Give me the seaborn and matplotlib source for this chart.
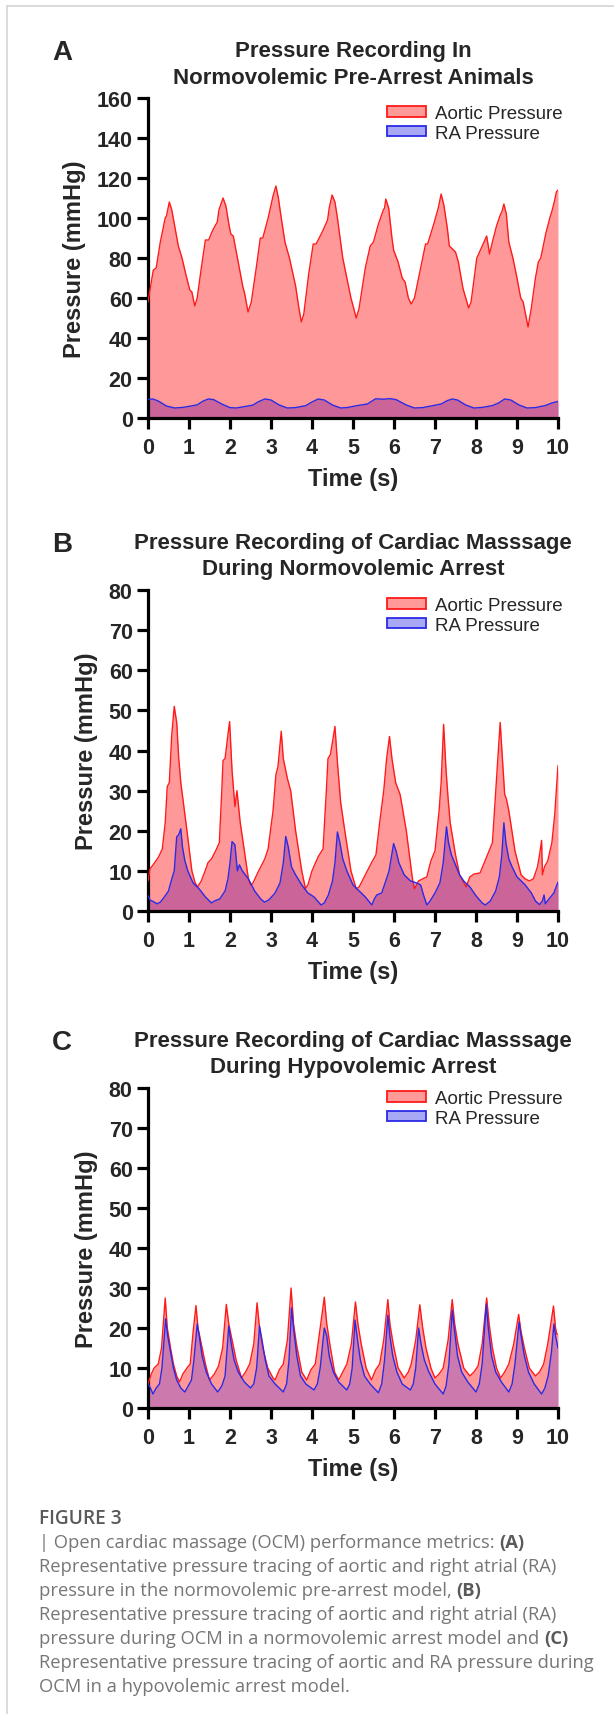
import matplotlib
matplotlib.use("Agg")
import matplotlib.pyplot as plt
import seaborn as sns
from matplotlib.patches import Patch
from matplotlib.lines import Line2D

# -------------------------
# Data
# -------------------------

# Panel A - normovolemic pre-arrest
a_aortic_t = [0.00, 0.08, 0.13, 0.20, 0.30, 0.42, 0.45, 0.52, 0.58, 0.66, 0.74, 0.83, 0.92, 1.02, 1.07, 1.14,
              1.20, 1.30, 1.40, 1.48, 1.58, 1.69, 1.73, 1.83, 1.90, 1.98, 2.02, 2.08, 2.20, 2.31, 2.36, 2.44,
              2.52, 2.64, 2.74, 2.80, 2.93, 3.05, 3.12, 3.18, 3.25, 3.34, 3.45, 3.60, 3.68, 3.74,
              3.80, 3.92, 4.03, 4.10, 4.25, 4.38, 4.42, 4.49, 4.56, 4.62, 4.75, 4.85, 4.95, 5.08,
              5.15, 5.30, 5.42, 5.50, 5.62, 5.74, 5.77, 5.80, 5.87, 5.95, 5.99, 6.10, 6.20, 6.27, 6.35, 6.42,
              6.50, 6.65, 6.77, 6.82, 6.97, 7.08, 7.15, 7.22, 7.30, 7.35, 7.50, 7.57, 7.68, 7.82,
              7.88, 8.02, 8.13, 8.26, 8.30, 8.33, 8.40, 8.50, 8.60, 8.63, 8.68, 8.74, 8.80, 8.90, 9.00, 9.09,
              9.15, 9.27, 9.35, 9.45, 9.52, 9.58, 9.70, 9.80, 9.86, 9.92, 9.96, 10.0]
a_aortic_p = [58, 68, 74, 75, 88, 100, 101, 108, 104, 95, 86, 80, 72, 64, 63, 56,
              60, 75, 89, 89, 94, 98, 104, 110, 106, 96, 92, 91, 78, 66, 62, 53,
              58, 75, 90, 90, 100, 111, 116, 110, 100, 88, 80, 66, 55, 48,
              52, 72, 87, 87, 93, 99, 105, 111.5, 108, 100, 80, 70, 60, 50,
              55, 75, 86, 88, 97, 104, 105, 109.5, 105, 90, 84, 78, 70, 68, 60, 57,
              60, 75, 87, 87, 97, 105, 112, 106, 95, 86, 83, 78, 65, 55,
              58, 80, 85, 91, 86, 82, 88, 96, 102, 103, 107, 102, 88, 80, 70, 60,
              58, 45.5, 55, 70, 78, 80, 92, 100, 104, 109, 113, 114]
a_ra_t = [0.00, 0.12, 0.25, 0.45, 0.65, 0.85, 1.05, 1.20, 1.35, 1.47, 1.60, 1.80, 2.00, 2.15, 2.35, 2.55,
          2.70, 2.85, 3.00, 3.20, 3.40, 3.60, 3.85, 4.00, 4.15, 4.30, 4.50, 4.70, 4.85, 5.10, 5.35, 5.55,
          5.75, 5.90, 6.05, 6.30, 6.50, 6.70, 6.95, 7.15, 7.30, 7.42, 7.55, 7.75, 7.95, 8.15, 8.40, 8.55,
          8.70, 8.85, 9.05, 9.25, 9.45, 9.70, 9.85, 10.0]
a_ra_p = [9.3, 9.5, 8.5, 6.0, 5.0, 5.3, 6.0, 6.6, 8.5, 9.5, 9.2, 7.0, 5.2, 5.0, 5.7, 6.4,
          8.2, 9.5, 9.0, 6.5, 5.0, 5.2, 6.2, 8.0, 9.5, 9.0, 6.5, 5.0, 5.2, 6.2, 7.0, 9.6,
          9.4, 9.7, 9.2, 6.5, 5.0, 5.2, 6.2, 7.0, 8.7, 9.5, 9.0, 6.5, 5.0, 5.3, 6.2, 7.5,
          9.5, 9.0, 6.5, 5.0, 5.2, 6.3, 7.5, 8.3]

# Panel B - cardiac massage, normovolemic arrest
b_aortic_t = [0.00, 0.05, 0.16, 0.26, 0.35, 0.42, 0.47, 0.52, 0.58, 0.64, 0.70, 0.75, 0.80, 0.85, 0.95, 1.07,
              1.15, 1.21, 1.30, 1.43, 1.46, 1.55, 1.65, 1.74, 1.80, 1.83, 1.88, 1.95, 1.99, 2.05, 2.12, 2.17,
              2.25, 2.35, 2.45, 2.50, 2.55, 2.70, 2.85, 2.93, 3.05, 3.12, 3.17, 3.25, 3.30, 3.40, 3.48, 3.60,
              3.75, 3.84, 3.90, 4.00, 4.15, 4.27, 4.35, 4.39, 4.45, 4.56, 4.62, 4.70, 4.80, 4.95, 5.08, 5.15,
              5.30, 5.45, 5.56, 5.65, 5.75, 5.82, 5.89, 5.95, 6.04, 6.15, 6.30, 6.45, 6.50, 6.60, 6.80, 6.90,
              7.00, 7.10, 7.15, 7.21, 7.27, 7.32, 7.37, 7.50, 7.60, 7.76, 7.85, 7.95, 8.10, 8.20, 8.28, 8.40,
              8.47, 8.52, 8.59, 8.65, 8.70, 8.74, 8.80, 8.95, 9.10, 9.20, 9.30, 9.40, 9.45, 9.50, 9.55, 9.60,
              9.62, 9.67, 9.75, 9.85, 9.92, 10.0]
b_aortic_p = [7.5, 10.5, 12, 13.5, 15.5, 22, 31, 32, 44, 51, 47, 38, 32, 28, 20, 10,
              7, 6, 7.5, 11, 12, 13, 15, 17, 30, 37.5, 38, 44, 47.2, 35, 26, 30,
              22, 15, 8, 6.5, 6.8, 10, 13, 15.5, 25, 34, 36, 44.8, 38, 33, 30, 20,
              10, 5.6, 6.5, 10, 13.5, 15.5, 30, 38, 39, 46, 37, 27, 20, 10, 5.5, 6,
              9, 12, 14, 22, 30, 38, 43.5, 38, 32, 29, 20, 8, 5.5, 7.5, 8.5, 12.5,
              15, 25, 32, 46.5, 35, 28, 22, 14, 9, 6, 8.5, 9.2, 9.5, 12, 14, 17,
              28, 36, 47, 37, 29, 28, 25, 15, 9, 8, 7.5, 8, 9.5, 11, 14, 17.6,
              9, 11, 12.5, 17, 24, 36.3]
b_ra_t = [0.00, 0.05, 0.12, 0.22, 0.30, 0.40, 0.50, 0.58, 0.64, 0.70, 0.75, 0.80, 0.84, 0.90, 0.97, 1.10,
          1.25, 1.40, 1.50, 1.55, 1.62, 1.75, 1.88, 1.95, 2.00, 2.05, 2.12, 2.18, 2.23, 2.30, 2.45, 2.60,
          2.75, 2.84, 2.95, 3.10, 3.22, 3.30, 3.36, 3.42, 3.50, 3.60, 3.75, 3.90, 4.05, 4.22, 4.30, 4.40,
          4.50, 4.56, 4.62, 4.68, 4.75, 4.85, 5.00, 5.15, 5.30, 5.46, 5.52, 5.58, 5.70, 5.80, 5.88, 5.99,
          6.05, 6.12, 6.25, 6.40, 6.55, 6.65, 6.72, 6.80, 6.88, 7.00, 7.12, 7.20, 7.28, 7.33, 7.40, 7.50,
          7.60, 7.70, 7.85, 8.00, 8.15, 8.23, 8.35, 8.48, 8.57, 8.63, 8.68, 8.73, 8.80, 8.88, 9.00, 9.10,
          9.20, 9.35, 9.45, 9.55, 9.62, 9.66, 9.69, 9.78, 9.90, 10.0]
b_ra_p = [3.9, 2.7, 2.4, 1.8, 2.2, 3.5, 5, 8, 10, 18.5, 19, 20.5, 16, 12.5, 10, 7,
          5.5, 3.5, 2.5, 2, 2.5, 3, 5, 8, 12, 17.3, 16.5, 10, 11.5, 10, 8, 5,
          3, 2.2, 2.8, 4.5, 7, 12, 18.6, 16, 11, 9, 6.5, 4.5, 3.5, 1.5, 2, 4,
          7.5, 12, 19.7, 17, 13, 10, 6.5, 5, 3.5, 1.5, 3, 4, 4.5, 7.5, 10, 16.8,
          15, 12, 9, 7.5, 7, 6.5, 4, 1.5, 2.5, 4.5, 7, 12, 21, 17, 14, 11.5,
          9, 7.5, 6, 3.8, 2, 1.5, 2.5, 5, 8.5, 14, 22, 17, 13, 11, 8.5, 7.5,
          6.5, 4.5, 2.5, 1.6, 2.5, 4, 1.8, 3, 4.5, 7.2]

# Panel C - cardiac massage, hypovolemic arrest
c_aortic_t = [0.00, 0.08, 0.15, 0.25, 0.33, 0.38, 0.42, 0.47, 0.55, 0.62, 0.70, 0.77,
              0.85, 0.95, 1.03, 1.10, 1.17, 1.22, 1.30, 1.40, 1.50,
              1.62, 1.72, 1.82, 1.91, 1.97, 2.05, 2.15, 2.28,
              2.38, 2.48, 2.58, 2.66, 2.72, 2.80, 2.92, 3.05, 3.10,
              3.20, 3.30, 3.40, 3.49, 3.55, 3.62, 3.75, 3.87,
              3.97, 4.08, 4.20, 4.30, 4.36, 4.45, 4.55, 4.65,
              4.75, 4.85, 4.96, 5.06, 5.12, 5.20, 5.32, 5.45,
              5.55, 5.65, 5.75, 5.85, 5.90, 5.98, 6.10, 6.25,
              6.35, 6.42, 6.53, 6.63, 6.70, 6.78, 6.90, 7.00,
              7.10, 7.20, 7.32, 7.42, 7.48, 7.56, 7.70, 7.85,
              7.95, 8.05, 8.15, 8.26, 8.32, 8.40, 8.50, 8.60,
              8.70, 8.80, 8.92, 9.04, 9.10, 9.18, 9.30, 9.45,
              9.55, 9.65, 9.75, 9.89, 9.94, 9.97, 10.0]
c_aortic_p = [6, 8.5, 10, 11, 15, 22, 27.5, 20, 15, 11, 8, 6.5,
              8.5, 10, 11, 19, 25.6, 20, 16, 11, 7,
              8.5, 10.5, 15, 25.9, 21, 17, 12, 7.5,
              9, 11, 16, 26.3, 20, 15, 10, 7.5, 7,
              9.5, 11, 17, 30, 21, 16, 9, 7,
              9.5, 11, 20, 27.7, 21, 15, 9, 7,
              9, 11, 16, 26.5, 21, 16, 10, 7,
              9.5, 11, 17, 27.1, 21, 16, 10, 7.5,
              9, 11, 17, 25.8, 20, 15, 10, 7.5,
              8.5, 10, 17, 27.1, 21, 16, 10, 8,
              9, 10.5, 16, 27.5, 21, 15, 10, 7.5,
              9, 11, 16, 23.4, 19, 15, 10, 8,
              9, 11, 16, 25.5, 20, 18.5, 18.4]
c_ra_t = [0.00, 0.06, 0.12, 0.20, 0.28, 0.34, 0.43, 0.48, 0.55, 0.62, 0.70, 0.80, 0.90,
          0.98, 1.06, 1.12, 1.20, 1.25, 1.32, 1.42, 1.55, 1.70,
          1.80, 1.88, 1.97, 2.03, 2.10, 2.20, 2.35, 2.50,
          2.58, 2.65, 2.72, 2.78, 2.86, 2.95, 3.10, 3.30,
          3.38, 3.44, 3.50, 3.56, 3.63, 3.72, 3.85, 4.05,
          4.13, 4.20, 4.30, 4.36, 4.42, 4.52, 4.65, 4.85,
          4.92, 4.98, 5.05, 5.11, 5.18, 5.28, 5.42, 5.62,
          5.70, 5.77, 5.85, 5.90, 5.97, 6.07, 6.20, 6.40,
          6.47, 6.53, 6.60, 6.66, 6.74, 6.85, 7.00, 7.20,
          7.27, 7.34, 7.42, 7.48, 7.55, 7.65, 7.80, 8.00,
          8.08, 8.15, 8.25, 8.30, 8.38, 8.48, 8.62, 8.80,
          8.88, 8.95, 9.05, 9.10, 9.18, 9.28, 9.42, 9.60,
          9.68, 9.76, 9.84, 9.90, 9.94, 10.0]
c_ra_p = [6, 5, 3.5, 5, 6, 10, 22.3, 18, 14, 10, 7, 5, 4,
          5.5, 7, 12, 21, 18, 13, 9, 6, 4,
          5.5, 8, 20.5, 16, 12, 9, 6.5, 5,
          6, 10, 20.5, 17, 12, 8, 6, 4,
          6, 12, 25, 19, 13, 8, 6, 4.5,
          6, 10, 20, 18, 13, 9, 6.5, 4.5,
          6, 10, 22, 17, 12, 8, 6, 3.8,
          6, 12, 23.2, 18, 13, 9, 6, 4.5,
          6, 10, 20, 16, 12, 9, 6, 3.5,
          5.5, 11, 24.5, 19, 13, 9, 6.5, 4,
          6, 11, 26, 20, 13, 9, 6.5, 4,
          6, 11, 21.5, 18, 13, 9, 6, 3.5,
          5, 8, 14, 21, 18, 15]

time_ticks = list(range(0, 11))
a_yticks = list(range(0, 161, 20))
bc_yticks = list(range(0, 81, 10))

titles = [["Pressure Recording In", "Normovolemic Pre-Arrest Animals"],
          ["Pressure Recording of Cardiac Masssage", "During Normovolemic Arrest"],
          ["Pressure Recording of Cardiac Masssage", "During Hypovolemic Arrest"]]
panel_letters = ["A", "B", "C"]
series_names = ["Aortic Pressure", "RA Pressure"]

caption_lines = [
    [("| Open cardiac massage (OCM) performance metrics: ", False), ("(A)", True)],
    [("Representative pressure tracing of aortic and right atrial (RA)", False)],
    [("pressure in the normovolemic pre-arrest model, ", False), ("(B)", True)],
    [("Representative pressure tracing of aortic and right atrial (RA)", False)],
    [("pressure during OCM in a normovolemic arrest model and ", False), ("(C)", True)],
    [("Representative pressure tracing of aortic and RA pressure during", False)],
    [("OCM in a hypovolemic arrest model.", False)],
]

# -------------------------
# Figure
# -------------------------
sns.set_theme(style="ticks")
plt.rcParams["font.family"] = ["Liberation Sans", "DejaVu Sans"]

W, H = 614, 1715
fig = plt.figure(figsize=(W / 100, H / 100), dpi=100)
fig.patch.set_facecolor("white")

RED = "#ff1a1a"
BLUE = "#2a2ae6"

# axes boxes in pixels: left, right, top, bottom
boxes = [(148, 558, 99, 419), (148, 558, 591, 912), (148, 558, 1089, 1409)]
legend_top = [106, 598, 1091]

panels = [
    (a_aortic_t, a_aortic_p, a_ra_t, a_ra_p, 160, a_yticks, False),
    (b_aortic_t, b_aortic_p, b_ra_t, b_ra_p, 80, bc_yticks, False),
    (c_aortic_t, c_aortic_p, c_ra_t, c_ra_p, 80, bc_yticks, True),
]


def fx(px):
    return px / W


def fy(py):
    return 1 - py / H


for i, (at, ap, rt, rp, ymax, yt, ra_on_top) in enumerate(panels):
    l, r, t, b = boxes[i]
    ax = fig.add_axes([fx(l), fy(b), (r - l) / W, (b - t) / H])

    if ra_on_top:
        ax.fill_between(at, 0, ap, color="red", alpha=0.4, lw=0, zorder=1)
        ax.fill_between(rt, 0, rp, color="blue", alpha=0.2, lw=0, zorder=2)
    else:
        ax.fill_between(rt, 0, rp, color="blue", alpha=0.34, lw=0, zorder=1)
        ax.fill_between(at, 0, ap, color="red", alpha=0.4, lw=0, zorder=2)
    sns.lineplot(x=at, y=ap, ax=ax, color=RED, lw=1.0, estimator=None, sort=False, zorder=3)
    sns.lineplot(x=rt, y=rp, ax=ax, color=BLUE, lw=1.0, estimator=None, sort=False, zorder=4)

    ax.set_xlim(0, 10)
    ax.set_ylim(0, ymax)
    ax.set_xticks(time_ticks)
    ax.set_yticks(yt)
    sns.despine(ax=ax)
    for side in ["left", "bottom"]:
        ax.spines[side].set_linewidth(2.3)
        ax.spines[side].set_color("black")
    ax.tick_params(axis="both", length=8, width=2.3, color="black", labelsize=15.5, pad=3)
    ax.tick_params(axis="x", pad=6)
    for lab in ax.get_xticklabels() + ax.get_yticklabels():
        lab.set_fontweight("bold")
    ax.set_xlabel("Time (s)", fontsize=17, fontweight="bold", labelpad=6)
    ax.set_ylabel("Pressure (mmHg)", fontsize=17, fontweight="bold", labelpad=8)
    ax.patch.set_alpha(0)

    handles = [Patch(facecolor="#ff9a99", edgecolor=RED, lw=1.3),
               Patch(facecolor="#a8a8f4", edgecolor=BLUE, lw=1.3)]
    ax.legend(handles, series_names, loc="upper left",
              bbox_to_anchor=(fx(387), fy(legend_top[i])), bbox_transform=fig.transFigure,
              frameon=False, borderpad=0, borderaxespad=0, fontsize=13.5,
              handlelength=2.08, handleheight=0.48, handletextpad=0.5, labelspacing=0.15)

    # panel letter and two-line title
    fig.text(fx(62), fy(t - 46), panel_letters[i], fontsize=20, fontweight="bold",
             ha="center", va="center")
    fig.text(fx(353), fy(t - 47), titles[i][0], fontsize=16, fontweight="bold",
             ha="center", va="center")
    fig.text(fx(353), fy(t - 21), titles[i][1], fontsize=16, fontweight="bold",
             ha="center", va="center")

# frame of the figure card
fig.add_artist(Line2D([fx(7), 1], [fy(7), fy(7)], transform=fig.transFigure, color="#d4d4d4", lw=1.2))
fig.add_artist(Line2D([fx(7), fx(7)], [fy(7), 0], transform=fig.transFigure, color="#d4d4d4", lw=1.2))

# caption
fig.text(fx(39), fy(1519), "FIGURE 3", fontsize=13.8, fontweight="semibold", color="#5a5a5a",
         family=["Open Sans", "DejaVu Sans"], ha="left", va="center")
renderer = fig.canvas.get_renderer()
for k, parts in enumerate(caption_lines):
    x = fx(39)
    y = fy(1543 + 24 * k)
    for txt, bold in parts:
        tobj = fig.text(x, y, txt, fontsize=13.2, color="#5a5a5a" if bold else "#767676",
                        fontweight="bold" if bold else "normal",
                        family=["Open Sans", "DejaVu Sans"], ha="left", va="center")
        bb = tobj.get_window_extent(renderer=renderer)
        x = bb.x1 / W

fig.savefig("out.png", dpi=100)
